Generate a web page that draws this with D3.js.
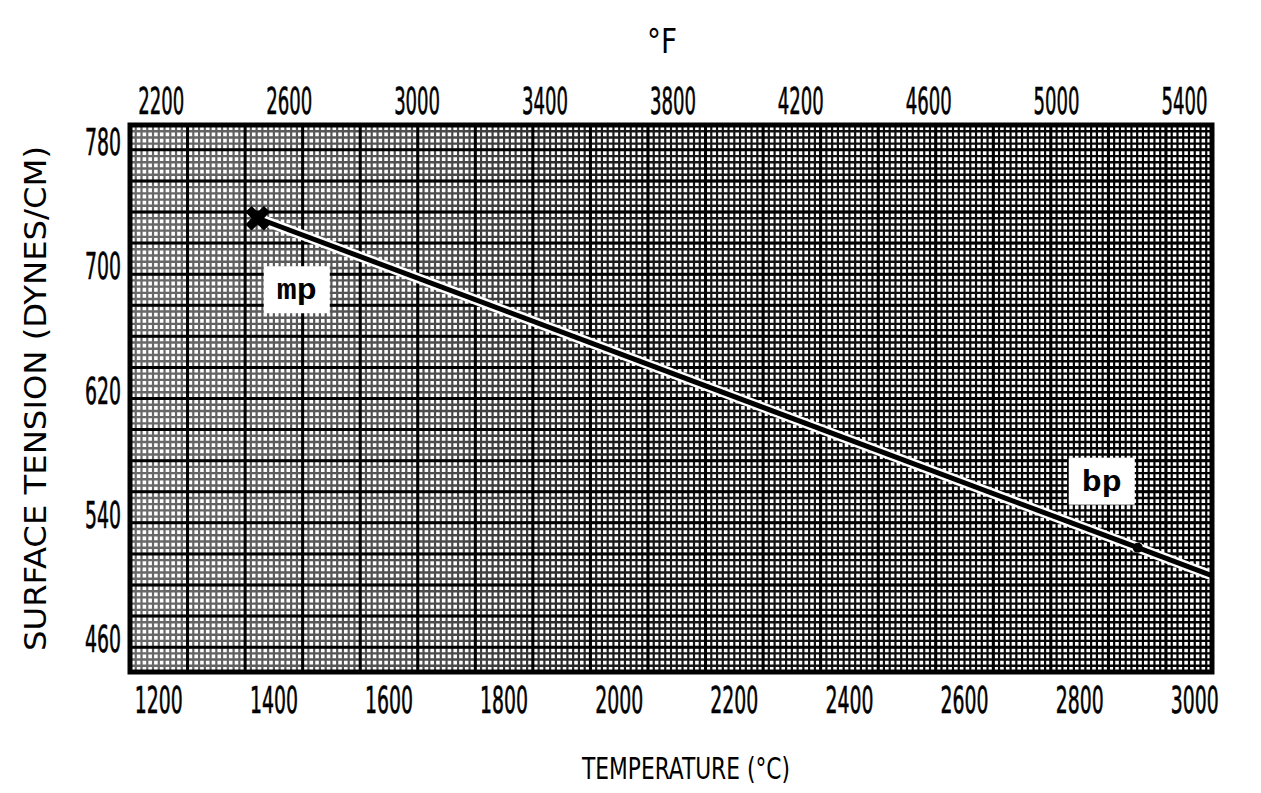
<!DOCTYPE html>
<html>
<head>
<meta charset="utf-8">
<script src="https://cdn.jsdelivr.net/npm/d3@7"></script>
<style>
  body { margin: 0; background: #fff; }
  svg { display: block; }
  text { font-family: "DejaVu Sans Condensed", "DejaVu Sans", sans-serif; fill: #000; }
  .tick text { stroke: #000; stroke-width: 0.6px; }
</style>
</head>
<body>
<div class="chart"></div>
<script>
// surface tension line
const tempC = [1372, 2901, 3030]
const tension = [731, 519, 501]

const ticksC = [1200, 1400, 1600, 1800, 2000, 2200, 2400, 2600, 2800, 3000]
const ticksF = [2200, 2600, 3000, 3400, 3800, 4200, 4600, 5000, 5400]
const ticksY = [460, 540, 620, 700, 780]

const noteLabels = ['mp', 'bp']
const noteTemp = [1372, 2901]
const noteTension = [731, 519]

function drawChart() {
    const width = 1261, height = 793
    const left = 130, right = 1212, top = 125, bottom = 672

    const x = d3.scaleLinear().domain([1150, 3030]).range([left, right])
    const xF = d3.scaleLinear().domain(x.domain().map(c => c * 1.8 + 32)).range([left, right])
    const y = d3.scaleLinear().domain([439, 791]).range([bottom, top])

    const svg = d3.select('.chart')
        .append('svg')
        .attr('width', width)
        .attr('height', height)

    const defs = svg.append('defs')
    defs.append('clipPath').attr('id', 'plotClip')
        .append('rect')
        .attr('x', left).attr('y', top)
        .attr('width', right - left).attr('height', bottom - top)

    // graph paper gets darker toward the right in the scan
    const paper = defs.append('linearGradient')
        .attr('id', 'paper')
        .attr('gradientUnits', 'userSpaceOnUse')
        .attr('x1', left).attr('x2', right)
        .attr('y1', 0).attr('y2', 0)
    paper.append('stop').attr('offset', '0%').attr('stop-color', '#6a6a6a')
    paper.append('stop').attr('offset', '30%').attr('stop-color', '#4a4a4a')
    paper.append('stop').attr('offset', '45%').attr('stop-color', '#1a1a1a')
    paper.append('stop').attr('offset', '100%').attr('stop-color', '#000')

    const plot = svg.append('g').attr('clip-path', 'url(#plotClip)')

    plot.append('rect')
        .attr('x', left).attr('y', top)
        .attr('width', right - left).attr('height', bottom - top)
        .attr('fill', '#fff')

    // minor grid
    plot.append('g').selectAll('line')
        .data(d3.range(1150, 3031, 10))
        .enter().append('line')
        .attr('x1', d => x(d)).attr('x2', d => x(d))
        .attr('y1', top).attr('y2', bottom)
        .attr('stroke', 'url(#paper)')
        .attr('stroke-width', 2.2)

    plot.append('g').selectAll('line')
        .data(d3.range(439, 792, 4))
        .enter().append('line')
        .attr('x1', left).attr('x2', right)
        .attr('y1', d => y(d)).attr('y2', d => y(d))
        .attr('stroke', 'url(#paper)')
        .attr('stroke-width', 2.4)

    // major grid
    plot.append('g').selectAll('line')
        .data(d3.range(1150, 3031, 100))
        .enter().append('line')
        .attr('x1', d => x(d)).attr('x2', d => x(d))
        .attr('y1', top).attr('y2', bottom)
        .attr('stroke', '#000')
        .attr('stroke-width', 3)

    plot.append('g').selectAll('line')
        .data(d3.range(455, 792, 20))
        .enter().append('line')
        .attr('x1', left).attr('x2', right)
        .attr('y1', d => y(d)).attr('y2', d => y(d))
        .attr('stroke', '#000')
        .attr('stroke-width', 3)

    const line = d3.line()
        .x(d => x(d[0]))
        .y(d => y(d[1]))
    const pts = d3.zip(tempC, tension)

    plot.append('path')
        .attr('d', line(pts))
        .attr('fill', 'none')
        .attr('stroke', '#fff')
        .attr('stroke-width', 10)

    plot.append('path')
        .attr('d', line(pts))
        .attr('fill', 'none')
        .attr('stroke', '#000')
        .attr('stroke-width', 5)

    // mp cross and bp dot
    svg.append('path')
        .attr('d', d3.symbol().type(d3.symbolCross).size(380)())
        .attr('transform', `translate(${x(noteTemp[0])},${y(noteTension[0])}) rotate(45)`)
        .attr('fill', '#000')

    svg.append('circle')
        .attr('cx', x(noteTemp[1])).attr('cy', y(noteTension[1]))
        .attr('r', 5)
        .attr('fill', '#000')

    const offsets = [[39, 72], [-36, -66]]
    const notes = svg.selectAll('.note')
        .data(noteLabels)
        .enter().append('g')
        .attr('class', 'note')
        .attr('transform', (d, i) => `translate(${x(noteTemp[i]) + offsets[i][0]},${y(noteTension[i]) + offsets[i][1]})`)

    notes.append('rect')
        .attr('x', -33).attr('y', -24)
        .attr('width', 66).attr('height', 47)
        .attr('fill', '#fff')

    notes.append('text')
        .text(d => d)
        .attr('text-anchor', 'middle')
        .attr('dy', '0.3em')
        .attr('textLength', 40)
        .attr('lengthAdjust', 'spacingAndGlyphs')
        .style('font-family', '"Liberation Mono", "DejaVu Sans Mono", monospace')
        .style('font-weight', 'bold')
        .style('font-size', '30px')

    svg.append('rect')
        .attr('x', left).attr('y', top)
        .attr('width', right - left).attr('height', bottom - top)
        .attr('fill', 'none')
        .attr('stroke', '#000')
        .attr('stroke-width', 5)

    // tick labels
    svg.append('g').attr('class', 'tick').selectAll('text')
        .data(ticksC)
        .enter().append('text')
        .text(d => d)
        .attr('x', d => x(d))
        .attr('y', 713)
        .attr('text-anchor', 'middle')
        .attr('textLength', 48)
        .attr('lengthAdjust', 'spacingAndGlyphs')
        .style('font-size', '38px')

    svg.append('g').attr('class', 'tick').selectAll('text')
        .data(ticksF)
        .enter().append('text')
        .text(d => d)
        .attr('x', d => xF(d))
        .attr('y', 114)
        .attr('text-anchor', 'middle')
        .attr('textLength', 46)
        .attr('lengthAdjust', 'spacingAndGlyphs')
        .style('font-size', '37px')

    svg.append('g').attr('class', 'tick').selectAll('text')
        .data(ticksY)
        .enter().append('text')
        .text(d => d)
        .attr('x', 121)
        .attr('y', d => y(d) + 13)
        .attr('text-anchor', 'end')
        .attr('textLength', 36)
        .attr('lengthAdjust', 'spacingAndGlyphs')
        .style('font-size', '37px')

    // axis titles
    svg.append('text')
        .text('°F')
        .attr('x', 662).attr('y', 53)
        .attr('text-anchor', 'middle')
        .attr('textLength', 30)
        .attr('lengthAdjust', 'spacingAndGlyphs')
        .style('font-size', '34px')

    svg.append('text')
        .text('TEMPERATURE (°C)')
        .attr('x', 686).attr('y', 779)
        .attr('text-anchor', 'middle')
        .attr('textLength', 208)
        .attr('lengthAdjust', 'spacingAndGlyphs')
        .style('font-size', '31px')

    svg.append('text')
        .text('SURFACE TENSION (DYNES/CM)')
        .attr('transform', `translate(46,${(top + bottom) / 2}) rotate(-90)`)
        .attr('text-anchor', 'middle')
        .attr('textLength', 505)
        .attr('lengthAdjust', 'spacingAndGlyphs')
        .style('font-size', '31px')
}

drawChart()
</script>
</body>
</html>
